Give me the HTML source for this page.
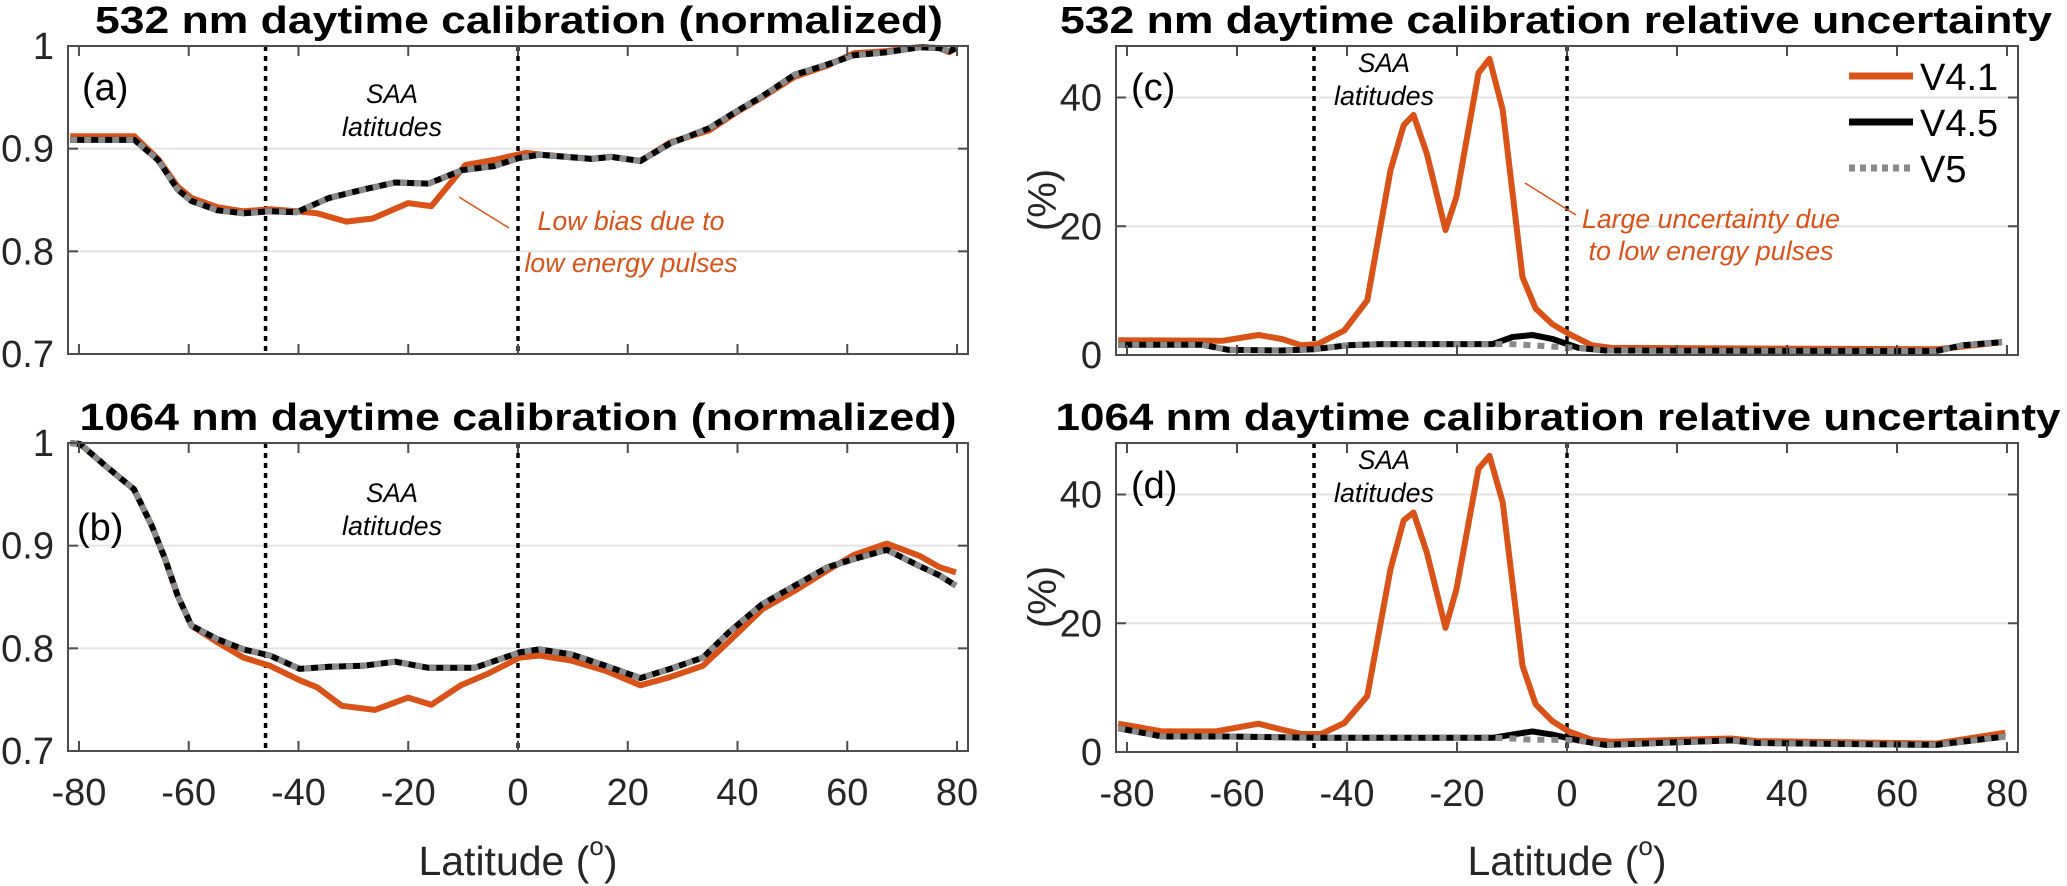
<!DOCTYPE html>
<html><head><meta charset="utf-8"><style>
html,body{margin:0;padding:0;background:#fff;}
svg{display:block;font-family:"Liberation Sans",Arial,sans-serif;}
</style></head><body>
<svg id="fig" width="2067" height="886" viewBox="0 0 2067 886" xmlns="http://www.w3.org/2000/svg"></svg>
<script>
// ---- data ----
const xTicks = [-80,-60,-40,-20,0,20,40,60,80];
const normTicks = [0.7,0.8,0.9,1];
const normTickLabels = ['0.7','0.8','0.9','1'];
const uncTicks = [0,20,40];
const uncTickLabels = ['0','20','40'];
const saaBounds = [-46,0];

// panel a (532 normalized)
const aLatV45 = [-81.6,-69.9,-65.6,-62,-59.5,-54.8,-50,-45.2,-40.4,-34.4,-28.3,-22.4,-16.3,-10.2,-4.4,0.3,3.9,13.4,17,22.3,27.7,34.9,39.7,44.5,50.4,56.4,61.2,67.2,73.2,76.8,78.6,79.8];
const aV45 = [0.9085,0.9085,0.889,0.860,0.849,0.840,0.837,0.839,0.838,0.852,0.860,0.867,0.866,0.879,0.883,0.891,0.894,0.890,0.892,0.888,0.905,0.920,0.936,0.951,0.972,0.982,0.991,0.994,0.9987,0.998,0.995,0.998];
const aV5 = aV45.slice();
const aLatV41 = [-81.6,-69.9,-65.6,-62,-59.5,-54.8,-50,-45.2,-40.4,-36.6,-31.3,-26.5,-20,-15.8,-9.6,-4.4,1.5,4.5,13.4,17,22.3,27.7,34.9,39.7,44.5,50.4,56.4,61.2,67.2,73.2,76.8,78.6,79.8];
const aV41 = [0.912,0.912,0.890,0.863,0.852,0.843,0.839,0.841,0.839,0.837,0.829,0.832,0.847,0.844,0.884,0.889,0.896,0.894,0.890,0.892,0.888,0.906,0.918,0.935,0.950,0.970,0.981,0.993,0.995,0.999,0.998,0.994,0.998];

// panel b (1064 normalized)
const bLatV45 = [-81.6,-79.8,-75,-70,-66.7,-64.3,-62,-59.5,-54.8,-50,-45.2,-39.8,-34.4,-28.3,-22.4,-16.3,-7.9,0.3,3.9,9.8,16,22.3,27.7,33.7,38.5,44.5,50.4,56.4,61.2,67.2,73.2,76.8,79.8];
const bV45 = [1.0,0.999,0.977,0.955,0.919,0.887,0.851,0.822,0.809,0.799,0.793,0.780,0.782,0.783,0.787,0.781,0.781,0.796,0.799,0.794,0.783,0.771,0.780,0.791,0.816,0.843,0.861,0.879,0.887,0.896,0.880,0.871,0.861];
const bV5 = bV45.slice();
const bLatV41 = [-81.6,-79.8,-75,-70,-66.7,-64.3,-62,-59.5,-54.8,-50,-45.2,-39.8,-36.6,-32.1,-26.1,-20,-15.8,-10.4,-5.6,0.3,3.9,9.8,16,22.3,27.7,33.7,38.5,44.5,50.4,56.4,61.2,67.2,73.2,76.8,79.8];
const bV41 = [1.0,0.999,0.977,0.955,0.919,0.887,0.851,0.822,0.806,0.791,0.783,0.769,0.762,0.744,0.740,0.752,0.745,0.764,0.775,0.791,0.793,0.788,0.778,0.764,0.772,0.783,0.807,0.838,0.856,0.876,0.891,0.902,0.890,0.879,0.874];

// panel c (532 uncertainty)
const cLatV41 = [-81.6,-62.7,-56.1,-51.9,-48.3,-45.3,-40.5,-36.3,-32.1,-29.7,-27.9,-25.5,-22.1,-20.1,-16.1,-14.1,-11.7,-8.1,-5.7,-2.7,0.3,4.5,8.1,67.1,70.7,79.1];
const cV41 = [2.3,2.2,3.1,2.5,1.5,1.7,3.8,8.5,28.7,35.7,37.3,31.3,19.4,24.6,43.8,46,38.1,12.1,7.2,4.8,3.3,1.5,1.1,0.9,1.2,2.0];
const cLatV45 = [-81.6,-66.4,-61.5,-51.9,-45.9,-39.9,-33.9,-13.5,-9.9,-6.3,-2.7,2.1,6.9,67.1,71.9,79.1];
const cV45 = [1.6,1.6,0.8,0.7,0.9,1.5,1.7,1.7,2.8,3.1,2.5,1.1,0.7,0.6,1.5,2.0];
const cV5 = [1.6,1.6,0.8,0.7,0.9,1.5,1.7,1.7,1.7,1.5,1.3,1.1,0.7,0.6,1.5,2.0];

// panel d (1064 uncertainty)
const dLatV41 = [-81.6,-73.6,-63.9,-56.1,-51.9,-48.3,-44.7,-40.5,-36.3,-32.1,-29.7,-27.9,-25.5,-22.1,-20.1,-16.1,-14.1,-11.7,-8.1,-5.7,-2.7,0.3,4.5,8.1,29.8,34.6,67.1,79.7];
const dV41 = [4.4,3.2,3.2,4.4,3.5,2.8,2.8,4.5,8.7,28.4,36,37.2,31,19.3,25.3,44,46,38.8,13.4,7.4,4.8,3.2,1.9,1.6,2.1,1.7,1.3,3.0];
const dLatV45 = [-81.6,-73.6,-61.5,-45.9,-33.9,-13.5,-9.9,-6.3,-2.7,2.1,6.9,29.8,34.6,67.1,79.7];
const dV45 = [3.7,2.4,2.4,2.2,2.2,2.2,2.7,3.2,2.7,1.8,1.1,1.8,1.4,1.1,2.4];
const dV5 = [3.7,2.4,2.4,2.2,2.2,2.2,2.1,1.9,1.9,1.8,1.1,1.8,1.4,1.1,2.4];

// ---- drawing ----
const NS='http://www.w3.org/2000/svg';
const svg=document.getElementById('fig');
function el(tag,attrs,parent){const e=document.createElementNS(NS,tag);for(const k in attrs)e.setAttribute(k,attrs[k]);(parent||svg).appendChild(e);return e;}
const ORANGE='#D95319';

function panel(o){
  const g=el('g',{});
  
  
  const X0=o.x0,X1=o.x1,Y0=o.y0,Y1=o.y1;
  const xs=v=>X0+(v-(-82))/(164)*(X1-X0);
  const ys=v=>Y1-(v-o.ymin)/(o.ymax-o.ymin)*(Y1-Y0);
  o.yTicks.forEach(t=>{ if(t>o.ymin && t<o.ymax){
    const gl=el('line',{x1:X0,x2:X1,y1:ys(t),y2:ys(t),stroke:'#e3e3e3','stroke-width':2},g);
    
    
  }});
  saaBounds.forEach(b=>{
    const l=el('line',{x1:xs(b),x2:xs(b),y1:Y0,y2:Y1,stroke:'#000','stroke-width':3.5,'stroke-dasharray':'5,5'},g);
    
    
  });
  function line(lats,vals,attrs,name){
    const d=lats.map((la,i)=>(i?'L':'M')+xs(la).toFixed(1)+','+ys(vals[i]).toFixed(1)).join(' ');
    const p=el('path',Object.assign({d:d,fill:'none','stroke-linejoin':'round'},attrs),g);
    
    
  }
  line(o.latV41,o.v41,{stroke:ORANGE,'stroke-width':6},'series-v41');
  line(o.latV45,o.v45,{stroke:'#000','stroke-width':6},'series-v45');
  line(o.latV45,o.v5,{stroke:'#8a8a8a','stroke-width':6,'stroke-dasharray':'7,7'},'series-v5');
  const box=el('rect',{x:X0,y:Y0,width:X1-X0,height:Y1-Y0,fill:'none',stroke:'#4d4d4d','stroke-width':2},g);
  
  
  xTicks.forEach(t=>{
    el('line',{x1:xs(t),x2:xs(t),y1:Y1,y2:Y1-10,stroke:'#4d4d4d','stroke-width':2},g);
    el('line',{x1:xs(t),x2:xs(t),y1:Y0,y2:Y0+10,stroke:'#4d4d4d','stroke-width':2},g);
    if(o.xLabels){
      const tx=el('text',{x:xs(t),y:Y1+54,'text-anchor':'middle','font-size':38,fill:'#262626'},g);
      
      
      tx.textContent=String(t);
    }
  });
  o.yTicks.forEach((t,i)=>{
    el('line',{x1:X0,x2:X0+10,y1:ys(t),y2:ys(t),stroke:'#4d4d4d','stroke-width':2},g);
    el('line',{x1:X1,x2:X1-10,y1:ys(t),y2:ys(t),stroke:'#4d4d4d','stroke-width':2},g);
    const ty=el('text',{x:X0-14,y:ys(t)+13,'text-anchor':'end','font-size':38,fill:'#262626'},g);
    
    
    ty.textContent=o.yLabels[i];
  });
  const ti=el('text',{x:o.tx,y:Y0-13,'text-anchor':'middle','font-size':38,'font-weight':'bold',fill:'#000',textLength:o.tw,lengthAdjust:'spacingAndGlyphs'},g);
  
  
  ti.textContent=o.title;
  const lt=el('text',{x:o.lx,y:o.ly,'font-size':38,fill:'#000'},g);
  
  
  lt.textContent=o.letter;
  const s1=el('text',{x:o.sx,y:o.sy,'text-anchor':'middle','font-size':27,'font-style':'italic',fill:'#000',textLength:52,lengthAdjust:'spacingAndGlyphs'},g);
  
  
  s1.textContent='SAA';
  const s2=el('text',{x:o.sx,y:o.sy+33,'text-anchor':'middle','font-size':27,'font-style':'italic',fill:'#000',textLength:100,lengthAdjust:'spacingAndGlyphs'},g);
  
  
  s2.textContent='latitudes';
  return g;
}

panel({name:'panel-a',x0:68,x1:968,y0:46,y1:354,ymin:0.7,ymax:1,yTicks:normTicks,yLabels:normTickLabels,xLabels:false,
  latV41:aLatV41,v41:aV41,latV45:aLatV45,v45:aV45,v5:aV5,title:'532 nm daytime calibration (normalized)',tx:519,tw:848,
  letter:'(a)',lx:82,ly:100,sx:392,sy:103});
panel({name:'panel-b',x0:68,x1:968,y0:443,y1:751,ymin:0.7,ymax:1,yTicks:normTicks,yLabels:normTickLabels,xLabels:true,
  latV41:bLatV41,v41:bV41,latV45:bLatV45,v45:bV45,v5:bV5,title:'1064 nm daytime calibration (normalized)',tx:518,tw:877,
  letter:'(b)',lx:77,ly:540,sx:392,sy:502});
panel({name:'panel-c',x0:1116,x1:2018,y0:46,y1:355,ymin:0,ymax:48,yTicks:uncTicks,yLabels:uncTickLabels,xLabels:false,
  latV41:cLatV41,v41:cV41,latV45:cLatV45,v45:cV45,v5:cV5,title:'532 nm daytime calibration relative uncertainty',tx:1556,tw:992,
  letter:'(c)',lx:1131,ly:100,sx:1384,sy:72});
panel({name:'panel-d',x0:1116,x1:2018,y0:443,y1:752,ymin:0,ymax:48,yTicks:uncTicks,yLabels:uncTickLabels,xLabels:true,
  latV41:dLatV41,v41:dV41,latV45:dLatV45,v45:dV45,v5:dV5,title:'1064 nm daytime calibration relative uncertainty',tx:1558,tw:1005,
  letter:'(d)',lx:1131,ly:498,sx:1384,sy:469});
</script>
<script>
(function(){
const NS='http://www.w3.org/2000/svg';const svg=document.getElementById('fig');
function t(x,y,s,attrs,name){const e=document.createElementNS(NS,'text');e.setAttribute('x',x);e.setAttribute('y',y);for(const k in attrs)e.setAttribute(k,attrs[k]);


e.textContent=s;svg.appendChild(e);return e;}
function l(x1,y1,x2,y2,attrs,name){const e=document.createElementNS(NS,'line');e.setAttribute('x1',x1);e.setAttribute('y1',y1);e.setAttribute('x2',x2);e.setAttribute('y2',y2);for(const k in attrs)e.setAttribute(k,attrs[k]);


svg.appendChild(e);return e;}
const OR='#D95319';
l(459,197,509,228,{stroke:OR,'stroke-width':1.5},'annotation-pointer-a');
t(631,230,'Low bias due to',{'text-anchor':'middle','font-size':27,'font-style':'italic',fill:OR,textLength:187,lengthAdjust:'spacingAndGlyphs'},'annotation-a-line1');
t(631,272,'low energy pulses',{'text-anchor':'middle','font-size':27,'font-style':'italic',fill:OR,textLength:213,lengthAdjust:'spacingAndGlyphs'},'annotation-a-line2');
l(1525,183,1576,215,{stroke:OR,'stroke-width':1.5},'annotation-pointer-c');
t(1711,228,'Large uncertainty due',{'text-anchor':'middle','font-size':27,'font-style':'italic',fill:OR,textLength:258,lengthAdjust:'spacingAndGlyphs'},'annotation-c-line1');
t(1711,260,'to low energy pulses',{'text-anchor':'middle','font-size':27,'font-style':'italic',fill:OR,textLength:245,lengthAdjust:'spacingAndGlyphs'},'annotation-c-line2');
const lg=[['V4.1',76,{stroke:OR,'stroke-width':7}],['V4.5',122,{stroke:'#000','stroke-width':7}],['V5',168,{stroke:'#8a8a8a','stroke-width':7,'stroke-dasharray':'6,5'}]];
lg.forEach(r=>{
  l(1849,r[1],1913,r[1],r[2],'legend-line-'+r[0].toLowerCase().replace('.',''));
  t(1920,r[1]+14,r[0],{'font-size':38,fill:'#000'},'legend-label');
});
t(0,0,'(%)',{'font-size':40,fill:'#262626','text-anchor':'middle',transform:'translate(1056,200) rotate(-90)'},'y-axis-title-c');
t(0,0,'(%)',{'font-size':40,fill:'#262626','text-anchor':'middle',transform:'translate(1056,597) rotate(-90)'},'y-axis-title-d');
function xl(cx,name){
  const e=document.createElementNS(NS,'text');
  e.setAttribute('x',cx);e.setAttribute('y',875);e.setAttribute('text-anchor','middle');
  e.setAttribute('font-size',41);e.setAttribute('fill','#262626');
  
  
  e.innerHTML='Latitude (<tspan font-size="26" dy="-20">o</tspan><tspan dy="20">)</tspan>';
  svg.appendChild(e);
}
xl(518,'x-axis-title-b');
xl(1567,'x-axis-title-d');
})();
</script>
</body></html>
